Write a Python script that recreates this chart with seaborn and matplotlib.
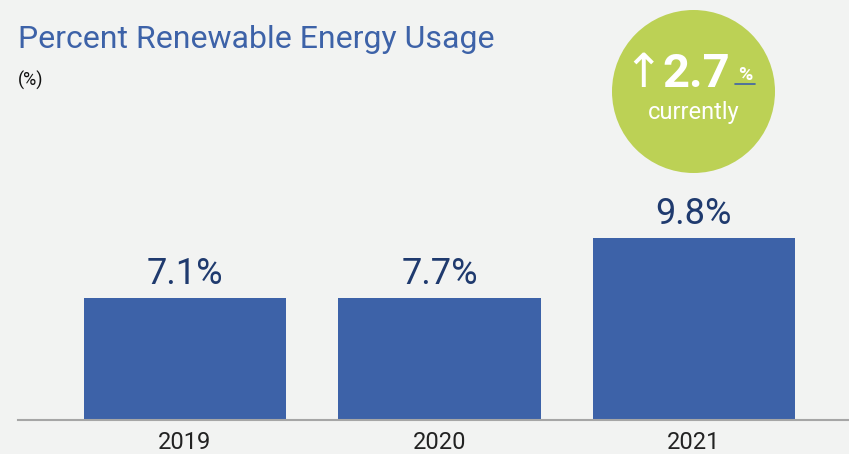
import matplotlib
matplotlib.use("Agg")
import matplotlib.pyplot as plt
from matplotlib.patches import Ellipse
import seaborn as sns
import pandas as pd

# ---- data ----
years = ["2019", "2020", "2021"]
pct_values = [7.1, 7.7, 9.8]          # printed values
bar_heights = [7.1, 7.1, 9.8]         # bar heights as drawn in the reference (2019 & 2020 bars equal)
headline_change = 2.7
title = "Percent Renewable Energy Usage"
unit_label = "(%)"

W, H = 849, 454
BG = "#f2f3f2"
BAR = "#3d62a8"
LABEL = "#1f3a6e"
GREEN = "#bcd155"

sns.set_theme(style="white")
plt.rcParams["font.family"] = ["Roboto", "DejaVu Sans"]

fig = plt.figure(figsize=(W / 100, H / 100), dpi=100, facecolor=BG)

def fx(px):
    return px / W

def fy(py):
    return 1 - py / H

ax = fig.add_axes([fx(18), fy(420), fx(849 - 18), (420 - 10) / H])
ax.set_facecolor(BG)

df = pd.DataFrame({"year": years, "height": bar_heights})
sns.barplot(data=df, x="year", y="height", color=BAR, saturation=1, width=0.794,
            edgecolor="none", linewidth=0, ax=ax)

ax.set_xlim(-0.656, 2.609)
ax.set_ylim(1.6, 20.07)
ax.set_xlabel("")
ax.set_ylabel("")
ax.set_yticks([])
for s in ["top", "right", "left"]:
    ax.spines[s].set_visible(False)
ax.spines["bottom"].set_color("#a6a6a6")
ax.spines["bottom"].set_linewidth(1.5)
ax.tick_params(axis="x", length=0, pad=8, labelsize=17, labelcolor="#222222")

ax.bar_label(ax.containers[0], labels=[f"{v}%" for v in pct_values],
             padding=4, fontsize=26, color=LABEL)

# title
fig.text(fx(18), fy(48), title, fontsize=23, color=BAR, va="baseline", ha="left")
fig.text(fx(18), fy(86), unit_label, fontsize=13, color="#111111", va="baseline", ha="left")

# circle badge
circ = Ellipse((fx(693.5), fy(91.5)), width=163 / W, height=163 / H,
               transform=fig.transFigure, facecolor=GREEN, edgecolor="none")
fig.add_artist(circ)
fig.text(fx(643), fy(87), "\u2191", fontsize=34, color="white", va="baseline", ha="center",
         family=["DejaVu Sans"])
fig.text(fx(662), fy(87), f"{headline_change}", fontsize=34, color="white",
         fontweight="bold", va="baseline", ha="left")
fig.text(fx(745), fy(80), "%", fontsize=14, color="white", fontweight="bold",
         va="baseline", ha="center")
fig.add_artist(plt.Line2D([fx(735), fx(755)], [fy(83.5), fy(83.5)], transform=fig.transFigure,
                          color=BAR, lw=1.2))
fig.text(fx(694), fy(119), "currently", fontsize=17, color="white",
         va="baseline", ha="center")

fig.savefig("out.png", dpi=100, facecolor=BG)
